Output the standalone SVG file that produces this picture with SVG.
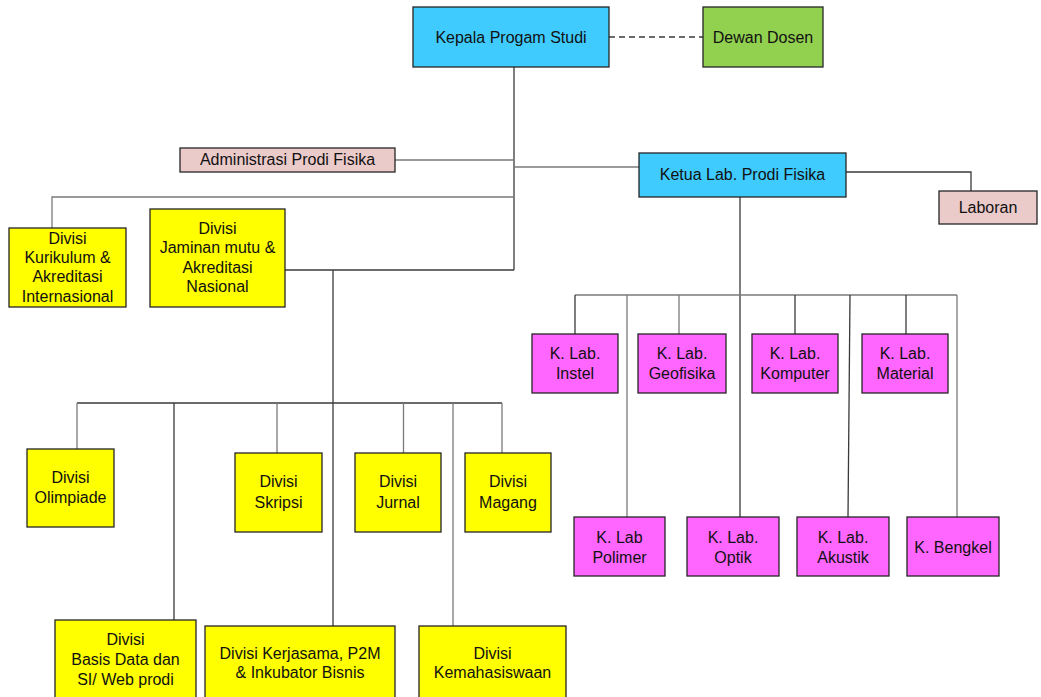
<svg xmlns="http://www.w3.org/2000/svg" width="1041" height="697" viewBox="0 0 1041 697">
<style>
.b{stroke:#262626;stroke-width:1.3}
.blue{fill:#3FCBFE}
.green{fill:#92D050}
.pink{fill:#EBCACA}
.yel{fill:#FFFF00}
.mag{fill:#FF66FF}
.c{fill:none;stroke:#3a3a3a;stroke-width:1.3}
.g{fill:none;stroke:#7a7a7a;stroke-width:1.3}
text{font-family:"Liberation Sans",Arial,sans-serif;font-size:16px;fill:#111;text-anchor:middle}
</style>
<rect width="1041" height="697" fill="#fff"/>
<g id="connectors">
<line class="c" x1="609" y1="37" x2="703" y2="37" stroke-dasharray="6,4"/>
<path class="c" d="M514 67V270"/>
<path class="g" d="M395 160H514"/>
<path class="g" d="M514 167H639"/>
<path class="g" d="M514 197H52V230"/>
<path class="c" d="M285 270H514"/>
<path class="c" d="M333 270V626"/>
<path class="c" d="M77 403H502"/>
<path class="g" d="M77 403V449"/>
<path class="c" d="M174 403V620"/>
<path class="g" d="M277 403V453"/>
<path class="g" d="M403.5 403V453"/>
<path class="g" d="M453 403V626"/>
<path class="g" d="M502 403V453"/>
<path class="c" d="M846 172H971V191"/>
<path class="c" d="M740 197V517"/>
<path class="g" d="M575 295H957"/>
<path class="c" d="M575 295V334"/>
<path class="g" d="M627 295V517"/>
<path class="g" d="M679 295V334"/>
<path class="c" d="M795 295V334"/>
<path class="c" d="M850 295L848 517"/>
<path class="c" d="M906 295V334"/>
<path class="g" d="M957 295V517"/>
</g>
<g id="kepala"><rect class="b blue" x="413" y="7" width="196" height="60"/><text x="511" y="43">Kepala Progam Studi</text></g>
<g id="dewan"><rect class="b green" x="703" y="7" width="120" height="60"/><text x="763" y="43">Dewan Dosen</text></g>
<g id="administrasi"><rect class="b pink" x="180" y="148" width="215" height="24"/><text x="287.5" y="165">Administrasi Prodi Fisika</text></g>
<g id="ketua-lab"><rect class="b blue" x="639" y="153" width="207" height="44"/><text x="742.5" y="180">Ketua Lab. Prodi Fisika</text></g>
<g id="laboran"><rect class="b pink" x="939" y="191" width="98" height="33"/><text x="988" y="212.5">Laboran</text></g>
<g id="kurikulum"><rect class="b yel" x="9" y="228" width="117" height="79"/><text x="67.5" y="243.5">Divisi</text><text x="67.5" y="263">Kurikulum &amp;</text><text x="67.5" y="282">Akreditasi</text><text x="67.5" y="301.5">Internasional</text></g>
<g id="jaminan"><rect class="b yel" x="150" y="209" width="135" height="98"/><text x="217.5" y="233.5">Divisi</text><text x="217.5" y="253">Jaminan mutu &amp;</text><text x="217.5" y="272.5">Akreditasi</text><text x="217.5" y="291.5">Nasional</text></g>
<g id="lab-instel"><rect class="b mag" x="532" y="334" width="86" height="59"/><text x="575" y="358.5">K. Lab.</text><text x="575" y="378.5">Instel</text></g>
<g id="lab-geofisika"><rect class="b mag" x="638" y="334" width="88" height="59"/><text x="682" y="358.5">K. Lab.</text><text x="682" y="378.5">Geofisika</text></g>
<g id="lab-komputer"><rect class="b mag" x="752" y="334" width="86" height="59"/><text x="795" y="358.5">K. Lab.</text><text x="795" y="378.5">Komputer</text></g>
<g id="lab-material"><rect class="b mag" x="862" y="334" width="86" height="59"/><text x="905" y="358.5">K. Lab.</text><text x="905" y="378.5">Material</text></g>
<g id="lab-polimer"><rect class="b mag" x="574" y="517" width="91" height="59"/><text x="619.5" y="542.5">K. Lab</text><text x="619.5" y="562.5">Polimer</text></g>
<g id="lab-optik"><rect class="b mag" x="687" y="517" width="92" height="59"/><text x="733" y="542.5">K. Lab.</text><text x="733" y="562.5">Optik</text></g>
<g id="lab-akustik"><rect class="b mag" x="797" y="517" width="92" height="59"/><text x="843" y="542.5">K. Lab.</text><text x="843" y="562.5">Akustik</text></g>
<g id="bengkel"><rect class="b mag" x="907" y="517" width="92" height="59"/><text x="953" y="552.5">K. Bengkel</text></g>
<g id="olimpiade"><rect class="b yel" x="27" y="449" width="87" height="78"/><text x="70.5" y="482.5">Divisi</text><text x="70.5" y="503">Olimpiade</text></g>
<g id="skripsi"><rect class="b yel" x="235" y="453" width="87" height="79"/><text x="278.5" y="486.5">Divisi</text><text x="278.5" y="507.5">Skripsi</text></g>
<g id="jurnal"><rect class="b yel" x="355" y="453" width="86" height="79"/><text x="398" y="486.5">Divisi</text><text x="398" y="507.5">Jurnal</text></g>
<g id="magang"><rect class="b yel" x="465" y="453" width="86" height="79"/><text x="508" y="486.5">Divisi</text><text x="508" y="507.5">Magang</text></g>
<g id="basis-data"><rect class="b yel" x="55" y="620" width="141" height="90"/><text x="125.5" y="644.5">Divisi</text><text x="125.5" y="664.5">Basis Data dan</text><text x="125.5" y="684.5">SI/ Web prodi</text></g>
<g id="kerjasama"><rect class="b yel" x="205" y="626" width="190" height="84"/><text x="300" y="658.5">Divisi Kerjasama, P2M</text><text x="300" y="677.5">&amp; Inkubator Bisnis</text></g>
<g id="kemahasiswaan"><rect class="b yel" x="419" y="626" width="147" height="84"/><text x="492.5" y="658.5">Divisi</text><text x="492.5" y="677.5">Kemahasiswaan</text></g>
</svg>
